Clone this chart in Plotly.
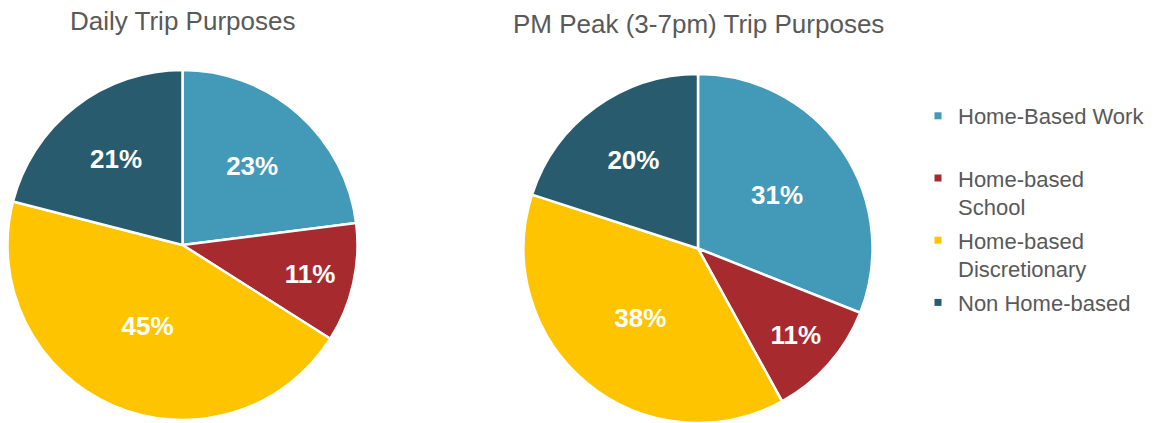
import plotly.graph_objects as go

categories = ["Home-Based Work", "Home-based School", "Home-based Discretionary", "Non Home-based"]
legend_names = ["Home-Based Work<br> ", "Home-based<br>School", "Home-based<br>Discretionary", "Non Home-based"]
daily_values = [23, 11, 45, 21]
pm_peak_values = [31, 11, 38, 20]
colors = ["#4399B8", "#A72B2E", "#FFC400", "#295B6F"]
titles = ["Daily Trip Purposes", "PM Peak (3-7pm) Trip Purposes"]

W, H = 1158, 423
FONT = "Liberation Sans, Arial, sans-serif"

def px_x(v):
    return v / W

def px_y(v):
    return 1 - v / H

fig = go.Figure()

pie_common = dict(
    labels=categories,
    marker=dict(colors=colors, line=dict(color="white", width=2.5)),
    sort=False,
    direction="clockwise",
    rotation=0,
    texttemplate="%{value}%",
    textposition="inside",
    insidetextorientation="horizontal",
    textfont=dict(family=FONT, size=26, color="white", weight="bold"),
    showlegend=False,
    hoverinfo="label+value",
)

fig.add_trace(go.Pie(values=daily_values,
                     domain=dict(x=[px_x(7), px_x(358)], y=[px_y(420), px_y(70)]),
                     **pie_common))
fig.add_trace(go.Pie(values=pm_peak_values,
                     domain=dict(x=[px_x(522), px_x(874)], y=[0, px_y(74)]),
                     **pie_common))

for i, (name, col) in enumerate(zip(legend_names, colors)):
    fig.add_trace(go.Scatter(x=[None], y=[None], mode="markers", name=name,
                             legendgroup=f"g{i}",
                             marker=dict(symbol="square", size=7, color=col),
                             showlegend=True, hoverinfo="skip"))

fig.add_annotation(text=titles[0], x=px_x(182), y=px_y(21), xref="paper", yref="paper",
                   showarrow=False, font=dict(family=FONT, size=26, color="#595959"),
                   xanchor="center", yanchor="middle")
fig.add_annotation(text=titles[1], x=px_x(698), y=px_y(24), xref="paper", yref="paper",
                   showarrow=False, font=dict(family=FONT, size=26, color="#595959"),
                   xanchor="center", yanchor="middle")

fig.update_layout(
    width=W, height=H,
    margin=dict(l=0, r=0, t=0, b=0),
    paper_bgcolor="white", plot_bgcolor="white",
    xaxis=dict(visible=False), yaxis=dict(visible=False),
    legend=dict(x=px_x(918), y=px_y(95), xanchor="left", yanchor="top",
                font=dict(family=FONT, size=22, color="#595959"),
                valign="top", tracegroupgap=2, bgcolor="rgba(0,0,0,0)"),
)

fig.write_html("out.html", config={"displayModeBar": False},
               post_script="document.body.style.margin='0';document.body.style.padding='0';")
